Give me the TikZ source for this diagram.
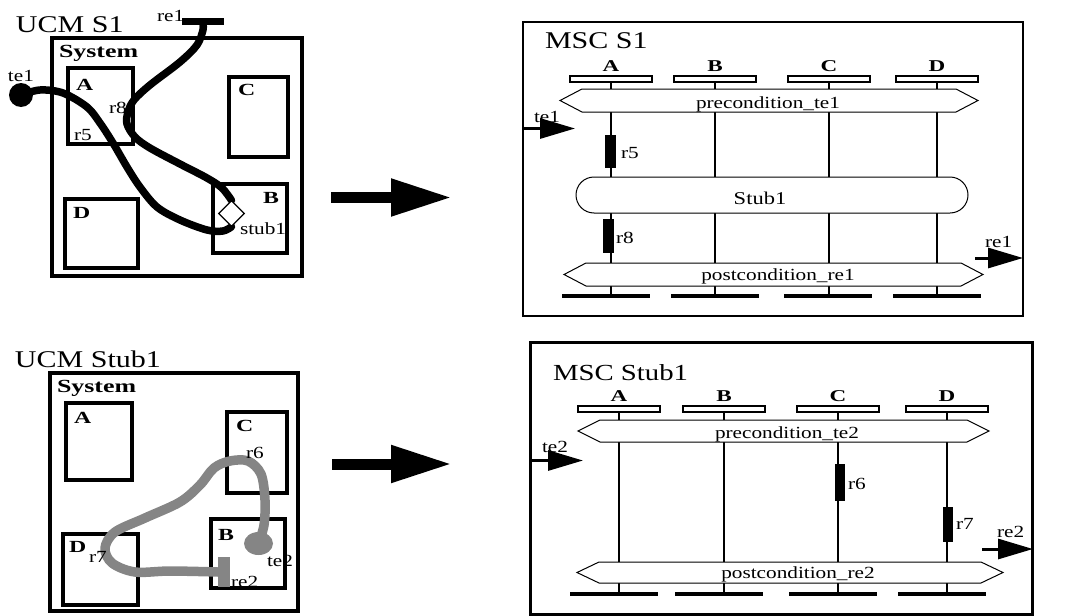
\documentclass[tikz,border=0pt]{standalone}
\usepackage{fontspec}
\setmainfont[FakeStretch=1.25]{Liberation Serif}
\newfontfamily\widefont[FakeStretch=1.4]{Liberation Serif}
\usetikzlibrary{arrows.meta,shapes.geometric}
\definecolor{ucmgray}{RGB}{133,133,133}
\tikzset{
  txt/.style={inner sep=0pt, outer sep=0pt, anchor=base west, font=\fontsize{17}{17}\selectfont},
  ctxt/.style={txt, anchor=base},
  ttl/.style={txt, font=\fontsize{24}{24}\selectfont},
  bld/.style={txt, font=\widefont\fontsize{17}{17}\selectfont\bfseries},
  hbld/.style={bld, anchor=base, font=\widefont\fontsize{16.5}{16.5}\selectfont\bfseries},
  sysl/.style={txt, font=\widefont\fontsize{18.5}{18.5}\selectfont\bfseries},
  ucmbox/.style={draw, line width=3.2pt, inner sep=0pt, outer sep=0pt},
  ucmpath/.style={line width=7.5pt, line cap=round, line join=round},
  graypath/.style={ucmpath, line width=9.5pt, draw=ucmgray},
  frame/.style={draw, line width=2.5pt, inner sep=0pt, outer sep=0pt},
  headbox/.style={draw, line width=1.5pt, fill=white, minimum width=82pt, minimum height=6pt, inner sep=0pt, outer sep=0pt},
  endbar/.style={fill=black, minimum width=88pt, minimum height=4.5pt, inner sep=0pt, outer sep=0pt},
  rbar/.style={fill=black, minimum width=10.5pt, inner sep=0pt, outer sep=0pt},
  lifeline/.style={line width=1.3pt},
  condarea/.style={inner sep=0pt, outer sep=0pt},
  cond/.style={draw, line width=1pt, fill=white},
  stubbox/.style={draw, line width=1pt, fill=white, rounded corners=18pt, inner sep=0pt, outer sep=0pt},
  msgarrow/.style={line width=3pt, -{Triangle[length=35pt,width=20pt]}},
  bigarrow/.style={line width=11pt, -{Triangle[length=61pt,width=35pt]}},
}
\begin{document}
\begin{tikzpicture}[x=1pt,y=-1pt]
\useasboundingbox (0,0) rectangle (1077,616);

% ================= UCM S1 =================
\node[ttl] (ucm1t) at (16,32) {UCM S1};
\node[ucmbox, minimum width=250pt, minimum height=238pt] (sys1) at (177,157) {};
\node[sysl] (sys1t) at (59,57) {System};
\node[ucmbox, minimum width=65pt, minimum height=76pt] (A1) at (100.5,106) {};
\node[ucmbox, minimum width=59pt, minimum height=80pt] (C1) at (258.5,117) {};
\node[ucmbox, minimum width=74pt, minimum height=69pt] (B1) at (250,218.5) {};
\node[ucmbox, minimum width=73pt, minimum height=69pt] (D1) at (101.5,233.5) {};
\node[bld] (A1t) at (76,90) {A};
\node[bld] (C1t) at (238,95) {C};
\node[bld] (B1t) at (263,203) {B};
\node[bld] (D1t) at (73,218) {D};
\node[circle, fill=black, minimum size=24pt, inner sep=0pt] (te1) at (21,95) {};
\node[txt] (te1t) at (8,81) {te1};
\node[fill=black, minimum width=42pt, minimum height=7pt, inner sep=0pt] (re1bar) at (203,21.5) {};
\node[txt] (re1t) at (157,21.5) {re1};
\node[diamond, minimum size=26pt, inner sep=0pt] (stub) at (231.5,213.5) {};
\draw[ucmpath] plot[smooth, tension=0.55] coordinates {(te1.center) (40,90) (63,93) (87,107) (100,123) (113,143) (127,167) (140,187) (157,207) (180,220) (207,230) (223,231) (stub.south)};
\draw[ucmpath] plot[smooth, tension=0.55] coordinates {(stub.north) (222,188) (207,178) (180,164) (150,148) (135,137) (127,124) (128,112) (134,100) (150,85) (180,62) (197,45) (203,30) (re1bar.south)};
\node[diamond, draw, line width=1.3pt, fill=white, minimum size=26pt, inner sep=0pt] at (stub) {};
\node[txt] (r5t) at (74,140) {r5};
\node[txt] (r8t) at (109,113) {r8};
\node[txt] (stubt) at (240,234) {stub1};

% ================= UCM Stub1 =================
\node[ttl] (ucm2t) at (15,367) {UCM Stub1};
\node[ucmbox, minimum width=248pt, minimum height=238pt] (sys2) at (174,492) {};
\node[sysl] (sys2t) at (57,392) {System};
\node[ucmbox, minimum width=66pt, minimum height=77pt] (A2) at (99,441.5) {};
\node[ucmbox, minimum width=60pt, minimum height=81pt] (C2) at (257,452.5) {};
\node[ucmbox, minimum width=74pt, minimum height=69pt] (B2) at (248,553.5) {};
\node[ucmbox, minimum width=75pt, minimum height=71pt] (D2) at (100.5,569.5) {};
\node[bld] (A2t) at (74,423) {A};
\node[bld] (C2t) at (236,431) {C};
\node[bld] (B2t) at (218,540) {B};
\node[bld] (D2t) at (69,552) {D};
\node[ellipse, fill=ucmgray, minimum width=29pt, minimum height=23pt, inner sep=0pt] (te2) at (258.5,543.5) {};
\node[fill=ucmgray, minimum width=12pt, minimum height=30pt, inner sep=0pt] (re2bar) at (224,572) {};
\draw[graypath] plot[smooth, tension=0.55] coordinates {(te2.center) (264,525) (265,500) (261,474) (248,461) (230,461) (214,468) (200,485) (180,502) (145,518) (115,532) (105,548) (112,563) (135,572) (170,571) (re2bar.west)};
\node[txt] (r6t) at (246,458) {r6};
\node[txt] (r7t) at (89,562) {r7};
\node[txt] (te2t) at (267,566) {te2};
\node[txt] (re2t) at (231,587) {re2};

% ================= big arrows =================
\coordinate (ar1s) at (331,197.5);
\coordinate (ar1e) at (452,197.5);
\draw[bigarrow] (ar1s) -- (ar1e);
\coordinate (ar2s) at (332,464);
\coordinate (ar2e) at (452,464);
\draw[bigarrow] (ar2s) -- (ar2e);

% ================= MSC S1 =================
\node[frame, minimum width=500pt, minimum height=294pt] (msc1) at (773,169) {};
\node[ttl] (msc1t) at (545,48) {MSC S1};
\foreach \n/\x/\ex in {A/611/606, B/715/714.5, C/829/828, D/937/937}{
  \node[headbox] (h1\n) at (\x,79) {};
  \node[hbld] (h1\n t) at (\x,71) {\n};
  \node[endbar] (e1\n) at (\ex,296) {};
  \draw[lifeline] (h1\n.south) -- (h1\n.south |- e1\n.north);
}
% precondition
\node[condarea, minimum width=418pt, minimum height=23pt] (pre1) at (769,100.5) {};
\draw[cond] (pre1.west) -- ([xshift=22pt]pre1.north west) -- ([xshift=-22pt]pre1.north east) -- (pre1.east) -- ([xshift=-22pt]pre1.south east) -- ([xshift=22pt]pre1.south west) -- cycle;
\node[ctxt] (pre1t) at (768,108) {precondition\_te1};
% postcondition
\node[condarea, minimum width=419pt, minimum height=23pt] (post1) at (773.5,274.5) {};
\draw[cond] (post1.west) -- ([xshift=22pt]post1.north west) -- ([xshift=-22pt]post1.north east) -- (post1.east) -- ([xshift=-22pt]post1.south east) -- ([xshift=22pt]post1.south west) -- cycle;
\node[ctxt] (post1t) at (778,280) {postcondition\_re1};
% stub
\node[stubbox, minimum width=392pt, minimum height=36pt] (stub1box) at (772,195) {};
\node[ctxt, font=\fontsize{18}{18}\selectfont] (stub1t) at (760,204) {Stub1};
% responsibilities
\node[rbar, minimum height=33pt] (r5bar) at (610.5,151.5) {};
\node[txt] (r5lab) at (621,158) {r5};
\node[rbar, minimum height=34pt] (r8bar) at (608.5,236) {};
\node[txt] (r8lab) at (616,243) {r8};
% messages
\coordinate (te1s) at (523,128.5);
\coordinate (te1e) at (575,128.5);
\draw[msgarrow] (te1s) -- (te1e);
\node[txt] (te1m) at (534,122) {te1};
\coordinate (re1s) at (975,258);
\coordinate (re1e) at (1023,258);
\draw[msgarrow] (re1s) -- (re1e);
\node[txt] (re1m) at (985,247) {re1};

% ================= MSC Stub1 =================
\node[frame, minimum width=502pt, minimum height=272pt] (msc2) at (781.5,478.5) {};
\node[ttl, font=\fontsize{23}{23}\selectfont] (msc2t) at (553,380) {MSC Stub1};
\foreach \n/\x/\ex in {A/619/614, B/724/719, C/838/832.5, D/947/941.5}{
  \node[headbox] (h2\n) at (\x,409) {};
  \node[hbld] (h2\n t) at (\x,401) {\n};
  \node[endbar] (e2\n) at (\ex,594) {};
  \draw[lifeline] (h2\n.south) -- (h2\n.south |- e2\n.north);
}
\node[condarea, minimum width=411pt, minimum height=22pt] (pre2) at (783.5,431) {};
\draw[cond] (pre2.west) -- ([xshift=22pt]pre2.north west) -- ([xshift=-22pt]pre2.north east) -- (pre2.east) -- ([xshift=-22pt]pre2.south east) -- ([xshift=22pt]pre2.south west) -- cycle;
\node[ctxt] (pre2t) at (787,438) {precondition\_te2};
\node[condarea, minimum width=426pt, minimum height=21pt] (post2) at (790,572.5) {};
\draw[cond] (post2.west) -- ([xshift=22pt]post2.north west) -- ([xshift=-22pt]post2.north east) -- (post2.east) -- ([xshift=-22pt]post2.south east) -- ([xshift=22pt]post2.south west) -- cycle;
\node[ctxt] (post2t) at (798,578) {postcondition\_re2};
\node[rbar, minimum height=37pt] (r6bar) at (840,482.5) {};
\node[txt] (r6lab) at (848,489) {r6};
\node[rbar, minimum height=35pt] (r7bar) at (948,524.5) {};
\node[txt] (r7lab) at (956,529) {r7};
\coordinate (te2s) at (530,460.5);
\coordinate (te2e) at (583,460.5);
\draw[msgarrow] (te2s) -- (te2e);
\node[txt] (te2m) at (542,452) {te2};
\coordinate (re2s) at (982,549);
\coordinate (re2e) at (1033,549);
\draw[msgarrow] (re2s) -- (re2e);
\node[txt] (re2m) at (997,537) {re2};
\end{tikzpicture}
\end{document}
